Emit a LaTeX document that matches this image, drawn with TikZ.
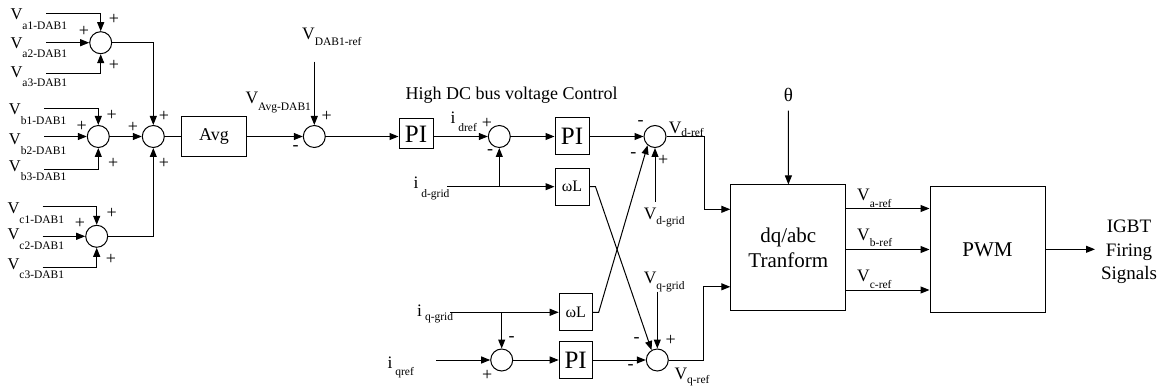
\documentclass[tikz,border=0pt]{standalone}
\usepackage{fontspec}
\setmainfont{Liberation Serif}
\usetikzlibrary{arrows.meta, calc}
\newcommand{\lsub}[3]{#1\raisebox{-#3pt}{\fontsize{11.5}{13}\selectfont #2}}

\begin{document}
\begin{tikzpicture}[x=1pt, y=-1pt, line width=1pt,
    arr/.style={-{Triangle[length=9pt, width=7pt]}},
    sumpt/.style={circle, draw, minimum size=22pt, inner sep=0pt},
    blk/.style={draw, inner sep=0pt},
    lbl/.style={font=\fontsize{16.5}{19}\selectfont, inner sep=0pt, anchor=base west},
    rlbl/.style={lbl, font=\fontsize{17.5}{20}\selectfont},
    sgn/.style={font=\fontsize{18}{21}\selectfont, inner sep=0pt}]
    \useasboundingbox (0,0) rectangle (1159,390);

    % Phase voltage sums
    \node[sumpt] (sa) at (100.7,42.7) {};
    \node[sumpt] (sb) at (98.3,136.5) {};
    \node[sumpt] (sc) at (96.7,236.3) {};
    \node[sumpt] (stot) at (153.3,136.5) {};

    \node[lbl] (va1) at (10,20) {\lsub{V}{a1-DAB1}{9.3}};
    \node[lbl] (va2) at (10,48.3) {\lsub{V}{a2-DAB1}{9.3}};
    \node[lbl] (va3) at (10,77.3) {\lsub{V}{a3-DAB1}{9.3}};
    \node[lbl] (vb1) at (8.5,115) {\lsub{V}{b1-DAB1}{9.3}};
    \node[lbl] (vb2) at (8.5,145) {\lsub{V}{b2-DAB1}{9.3}};
    \node[lbl] (vb3) at (8.5,171.7) {\lsub{V}{b3-DAB1}{9.3}};
    \node[lbl] (vc1) at (7,214) {\lsub{V}{c1-DAB1}{9.3}};
    \node[lbl] (vc2) at (7,240) {\lsub{V}{c2-DAB1}{9.3}};
    \node[lbl] (vc3) at (7,269.3) {\lsub{V}{c3-DAB1}{9.3}};

    \coordinate (ia1) at (46,14);
    \coordinate (ia2) at (46,42.7);
    \coordinate (ia3) at (46,74);
    \coordinate (ib1) at (44,109);
    \coordinate (ib2) at (44,136.5);
    \coordinate (ib3) at (44,170);
    \coordinate (ic1) at (42.7,207);
    \coordinate (ic2) at (42.7,236.3);
    \coordinate (ic3) at (42.7,267);

    \draw[arr] (ia1) -| (sa);
    \draw[arr] (ia2) -- (sa);
    \draw[arr] (ia3) -| (sa);
    \draw[arr] (ib1) -| (sb);
    \draw[arr] (ib2) -- (sb);
    \draw[arr] (ib3) -| (sb);
    \draw[arr] (ic1) -| (sc);
    \draw[arr] (ic2) -- (sc);
    \draw[arr] (ic3) -| (sc);
    \draw[arr] (sa) -| (stot);
    \draw[arr] (sb) -- (stot);
    \draw[arr] (sc) -| (stot);

    % DC bus voltage loop
    \node[blk, minimum width=65pt, minimum height=40pt, font=\fontsize{18}{21}\selectfont] (avg) at (214,136.5) {Avg};
    \node[sumpt] (s2) at (314.3,136.5) {};
    \node[blk, minimum width=34pt, minimum height=30pt, font=\fontsize{25}{28}\selectfont] (pi1) at (416,134) {PI};
    \node[rlbl] (vavg) at (245,103.3) {\lsub{V}{Avg-DAB1}{7}};
    \node[rlbl] (vdabref) at (301.7,40) {\lsub{V}{DAB1-ref}{6}};
    \node[font=\fontsize{18}{21}\selectfont, inner sep=0pt, anchor=base] (title) at (511.5,99.3) {High DC bus voltage Control};
    \coordinate (vref) at (314.3,61.7);

    \draw (stot) -- (avg);
    \draw[arr] (avg) -- (s2);
    \draw[arr] (vref) -- (s2);
    \draw[arr] (s2) -- (s2 -| pi1.west);

    % d-axis current loop
    \node[sumpt] (s3) at (499.3,136.5) {};
    \node[blk, minimum width=34pt, minimum height=37pt, font=\fontsize{25}{28}\selectfont] (pi2) at (572,136.5) {PI};
    \node[blk, minimum width=34pt, minimum height=37pt, font=\fontsize{16}{19}\selectfont] (wl1) at (572,186.7) {ωL};
    \node[sumpt] (s4) at (655,136.5) {};
    \node[rlbl] (idref) at (450,123.3) {\lsub{i\hspace{3pt}}{dref}{8.4}};
    \node[rlbl] (idgrid) at (413,189) {\lsub{i\hspace{3pt}}{d-grid}{9}};
    \node[rlbl] (vdref) at (668.3,133.3) {\lsub{V}{d-ref}{3.5}};
    \node[rlbl] (vdgrid) at (643.3,219.3) {\lsub{V}{d-grid}{5}};
    \coordinate (idg) at (447,186.7);
    \coordinate (vdg) at (655,201.7);

    \draw[arr] (pi1.east |- s3) -- (s3);
    \draw[arr] (s3) -- (pi2);
    \draw[arr] (pi2) -- (s4);
    \draw[arr] (idg) -- (wl1);
    \draw[arr] (s3 |- idg) -- (s3);
    \draw[arr] (vdg) -- (s4);

    % q-axis current loop
    \node[sumpt] (s6) at (501.7,360) {};
    \node[blk, minimum width=33pt, minimum height=37pt, font=\fontsize{16}{19}\selectfont] (wl2) at (575.7,312.3) {ωL};
    \node[blk, minimum width=33pt, minimum height=37pt, font=\fontsize{25}{28}\selectfont] (pi3) at (575.7,360) {PI};
    \node[sumpt] (s5) at (657.3,360) {};
    \node[rlbl] (iqgrid) at (416.7,316.7) {\lsub{i\hspace{3pt}}{q-grid}{4}};
    \node[rlbl] (iqref) at (387,368.3) {\lsub{i\hspace{3pt}}{qref}{7}};
    \node[rlbl] (vqgrid) at (643.3,283.3) {\lsub{V}{q-grid}{6}};
    \node[rlbl] (vqref) at (674,379.3) {\lsub{V}{q-ref}{4}};
    \coordinate (iqg) at (450,312.3);
    \coordinate (iqr) at (436,360);
    \coordinate (vqg) at (657.3,291.7);

    \draw[arr] (iqg) -- (wl2);
    \draw[arr] (s6 |- iqg) -- (s6);
    \draw[arr] (iqr) -- (s6);
    \draw[arr] (s6) -- (pi3);
    \draw[arr] (pi3) -- (s5);
    \draw[arr] (vqg) -- (s5);

    % cross coupling
    \draw[arr] (wl1.east) -- ++(6,0) -- (s5.120);
    \draw[arr] (wl2.east) -- ++(6,0) -- (s4.230);

    % signs at the summing points
    \foreach \x/\y/\s [count=\i] in {114/19.3/+, 84/31.7/+, 114/65/+,
        111.7/115/+, 81.7/126.7/+, 113.3/163.3/+,
        111.7/213.3/+, 80/223.3/+, 111/259.3/+,
        164/116/+, 133/127/+, 164/163/+,
        295.7/148/-, 326.7/116/+,
        487/123/+, 490/152/-,
        640.7/123.3/-, 633.3/155/-, 663.3/160/+,
        511.7/339.3/-, 487.3/375/+,
        636.7/340/-, 630.7/366.7/-, 670.7/340/+}
        \node[sgn] (sg\i) at (\x,\y) {\s};

    % transform and PWM
    \node[blk, minimum width=115pt, minimum height=125.7pt, align=center, font=\fontsize{21}{25}\selectfont] (dq) at (788.3,247.8) {dq/abc\\Tranform};
    \node[blk, minimum width=115pt, minimum height=125.5pt, font=\fontsize{21}{25}\selectfont] (pwm) at (987.5,249.3) {PWM};
    \node[font=\fontsize{19}{22}\selectfont, inner sep=0pt, outer sep=9pt] (theta) at (788.5,95) {θ};
    \node[font=\fontsize{19}{23.3}\selectfont, align=center, anchor=west, inner sep=0pt, outer sep=6pt] (fire) at (1095,252) {IGBT\\Firing\\Signals};
    \node[rlbl] (varef) at (856.7,200.7) {\lsub{V}{a-ref}{6.5}};
    \node[rlbl] (vbref) at (856.7,240.7) {\lsub{V}{b-ref}{6}};
    \node[rlbl] (vcref) at (856.7,281.7) {\lsub{V}{c-ref}{6.6}};

    \draw[arr] (s4.east) -- ++(38,0) |- ([yshift=38.5pt]dq.west);
    \draw[arr] (s5.east) -- ++(35,0) |- ([yshift=-39pt]dq.west);
    \draw[arr] (theta) -- (dq);
    \foreach \y in {208.5, 249.5, 290}
        \draw[arr] (dq.east |- 0,\y) -- (pwm.west |- 0,\y);
    \draw[arr] (pwm.east) -- (pwm.east -| fire.west);
\end{tikzpicture}
\end{document}
